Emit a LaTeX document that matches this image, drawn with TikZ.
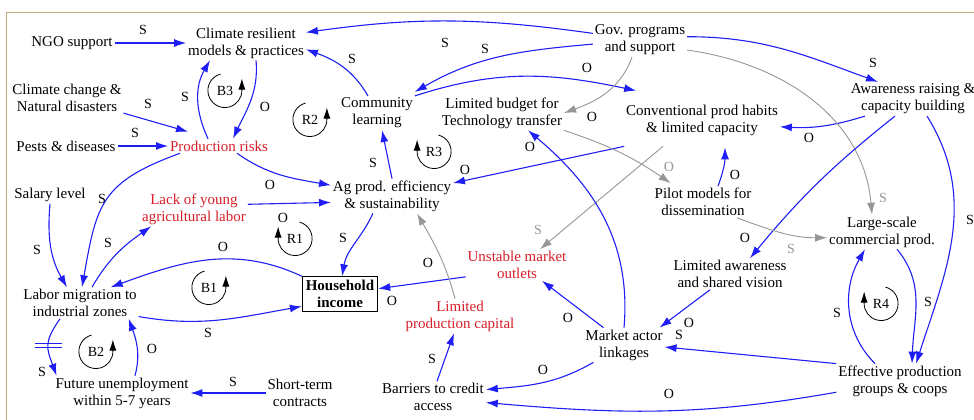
\documentclass[tikz,border=0pt]{standalone}
\usepackage{fontspec}
\setmainfont{Liberation Serif}
\usepackage{tikz}
\usetikzlibrary{arrows.meta,positioning}
\definecolor{linkblue}{RGB}{30,30,245}
\definecolor{linkgray}{RGB}{150,150,150}
\definecolor{riskred}{RGB}{215,30,40}
\definecolor{framecol}{RGB}{190,172,125}
\tikzset{
every picture/.style={
line width=1pt
}}
\tikzset{
    var/.style={align=center, inner sep=1.5pt, text=black,
      font=\fontsize{15}{17}\selectfont},
    hot/.style={var, text=riskred},
    box/.style={var, draw, inner sep=3.5pt, line width=0.9pt,
      font=\fontsize{15}{17}\selectfont\bfseries},
    link/.style={draw=linkblue, line width=1.1pt, -{Latex[length=12pt,width=8pt]}},
    glink/.style={draw=linkgray, line width=0.9pt, -{Latex[length=12pt,width=8pt]}},
    lbl/.style={inner sep=0pt, text=black, font=\fontsize{14}{16}\selectfont},
    glbl/.style={lbl, text=linkgray},
    loopmark/.style={circle, minimum size=34pt, inner sep=0pt,
      font=\fontsize{14}{16}\selectfont},
    looparrow/.style={line width=0.8pt, -{Latex[length=11pt,width=7pt]}}
}
\begin{document}
\begin{tikzpicture}[x=1pt, y=1pt]% [line width=0.25mm]
\useasboundingbox (0,0) rectangle (974,-420);
\draw [framecol, line width=0.8pt] (6,-420) |- (974,-12);

\node [var] at (72,-43) (ngo) {NGO support};
\node [var] at (246,-43) (climres) {Climate resilient\\models \& practices};
\node [var] at (67,-98) (cchange) {Climate change \&\\Natural disasters};
\node [var] at (66,-146) (pests) {Pests \& diseases};
\node [hot] at (219,-146) (prisk) {Production risks};
\node [var] at (50,-195) (salary) {Salary level};
\node [hot] at (194,-209) (lackyoung) {Lack of young\\agricultural labor};
\node [var] at (392,-196) (agprod) {Ag prod. efficiency\\\& sustainability};
\node [var] at (377,-113) (commlearn) {Community\\learning};
\node [var] at (502,-113) (budget) {Limited budget for\\Technology transfer};
\node [var] at (640,-40) (gov) {Gov. programs\\and support};
\node [var] at (702,-120) (convhab) {Conventional prod habits\\\& limited capacity};
\node [var] at (913,-99) (aware) {Awareness raising \&\\capacity building};
\node [var] at (703,-202) (pilot) {Pilot models for\\dissemination};
\node [var] at (882,-232) (largesc) {Large-scale\\commercial prod.};
\node [var] at (730,-274) (limaware) {Limited awareness\\and shared vision};
\node [hot] at (517,-265) (unstable) {Unstable market\\outlets};
\node [box] at (340,-294) (income) {Household\\income};
\node [hot] at (460,-316) (lpcap) {Limited\\production capital};
\node [var] at (624,-345) (market) {Market actor\\linkages};
\node [var] at (80,-303) (labmig) {Labor migration to\\industrial zones};
\node [var] at (122,-393) (future) {Future unemployment\\within 5-7 years};
\node [var] at (300,-393) (shortterm) {Short-term\\contracts};
\node [var] at (433,-397) (barriers) {Barriers to credit\\access};
\node [var] at (900,-381) (effprod) {Effective production\\groups \& coops};

\foreach \n/\x/\y in {B3/225/91, R2/310/120, B1/209/288, B2/96/352} {
  \node [loopmark] at (\x,-\y) (\n) {\n};
  \draw [looparrow] (\n.105) arc [start angle=105, end angle=360, radius=17] -- ++(0,12);
}
\foreach \n/\x/\y in {R3/434/152, R1/295/239, R4/881/304} {
  \node [loopmark] at (\x,-\y) (\n) {\n};
  \draw [looparrow] (\n.75) arc [start angle=75, end angle=-180, radius=17] -- ++(0,12);
}

\draw [link] (ngo) -- (climres) node [lbl] at (143,-30) {S};
\draw [link] (gov.172) to [out=172, in=8] (climres.10) node [lbl] at (445,-43) {S};
\draw [link] ([xshift=-9pt]commlearn.north) to [out=120, in=-20] (climres.-6) node [lbl] at (352,-59) {S};
\draw [link] (cchange.-15) -- ([xshift=20pt, yshift=7pt]prisk.north west) node [lbl] at (148,-104) {S};
\draw [link] (pests) -- (prisk) node [lbl] at (135,-133) {S};
\draw [link] ([xshift=-11pt]prisk.north) to [out=115, in=-120] ([xshift=-36pt]climres.south) node [lbl] at (185,-97) {S};
\draw [link] ([xshift=10pt]climres.south) to [out=-85, in=65] ([xshift=14pt]prisk.north) node [lbl] at (265,-107) {O};
\draw [link] ([xshift=18pt]prisk.south) to [out=-35, in=170] (agprod.170) node [lbl] at (270,-185) {O};
\draw [link] (lackyoung.5) -- (agprod.186) node [lbl] at (283,-218) {O};
\draw [link] (agprod.north) -- ([xshift=5pt]commlearn.south) node [lbl] at (373,-163) {S};
\draw [link] ([xshift=-19pt]agprod.south) to [out=-115, in=80] ([xshift=2pt]income.north) node [lbl] at (343,-238) {S};

\draw [link] (gov.185) to [out=185, in=30] ([yshift=4pt]commlearn.north east) node [lbl] at (485,-49) {S};
\draw [link] (commlearn.north east) to [out=18, in=168] ([xshift=12pt, yshift=12pt]convhab.north west) node [lbl] at (587,-68) {O};
\draw [glink] ([xshift=-8pt]gov.south) to [out=-110, in=20] (budget.east) node [lbl] at (592,-117) {O};
\draw [link] ([yshift=-9pt]convhab.south west) -- (agprod.12) node [lbl] at (465,-170) {O};
\draw [glink] (budget.south east) to [bend left=8] ([xshift=18pt, yshift=3pt]pilot.north west) node [glbl] at (669,-167) {O};
\draw [glink] ([xshift=-39pt, yshift=-9pt]convhab.south) -- ([xshift=23pt]unstable.north) node [glbl] at (538,-230) {S};
\draw [link] ([xshift=15pt]pilot.north) to [out=70, in=-90] ([xshift=23pt, yshift=-10pt]convhab.south) node [lbl] at (735,-175) {O};
\draw [link] ([xshift=-48pt]aware.south) to [bend left=10] (convhab.-5) node [lbl] at (809,-138) {O};
\draw [link] (gov.4) to [out=0, in=160] ([xshift=-35pt]aware.north) node [lbl] at (873,-63) {S};
\draw [glink] (gov.-12) to [out=-8, in=95] ([xshift=-10pt]largesc.north) node [glbl] at (883,-198) {S};
\draw [link] ([xshift=-18pt]aware.south) to [bend right=6] ([xshift=20pt]limaware.north) node [lbl] at (745,-238) {O};
\draw [link] ([xshift=14pt]aware.south) to [out=-58, in=72] ([xshift=16pt]effprod.north) node [lbl] at (970,-220) {S};
\draw [glink] ([xshift=34pt]pilot.south) to [out=-20, in=180] (largesc.186) node [glbl] at (791,-249) {S};
\draw [link] ([xshift=15pt]largesc.south) to [out=-50, in=88] ([xshift=12pt]effprod.north) node [lbl] at (928,-302) {S};
\draw [link] ([xshift=-25pt]effprod.north) to [out=135, in=-120] ([xshift=-17pt]largesc.south) node [lbl] at (837,-313) {S};

\draw [link] ([xshift=-20pt]limaware.south) -- ([xshift=-5pt]market.north east) node [lbl] at (689,-323) {O};
\draw [link] (effprod.north west) -- ([yshift=-2pt]market.east) node [lbl] at (679,-335) {S};
\draw [link] (effprod.190) to [out=190, in=-5] (barriers.-6) node [lbl] at (669,-394) {O};
\draw [link] ([xshift=10pt]market.south west) to [out=-150, in=5] (barriers.8) node [lbl] at (543,-370) {O};
\draw [link] ([xshift=20pt]market.north west) -- ([xshift=25pt]unstable.south) node [lbl] at (568,-318) {O};
\draw [link] (market.north) to [out=85, in=-40] ([xshift=26pt]budget.south) node [lbl] at (530,-147) {O};
\draw [link] (unstable.193) -- (income.8) node [lbl] at (392,-301) {O};
\draw [glink] ([xshift=-5pt]lpcap.north) to [out=105, in=-60] ([xshift=25pt]agprod.south) node [lbl] at (428,-263) {O};
\draw [link] ([xshift=4pt]barriers.north) -- ([xshift=-6pt]lpcap.south) node [lbl] at (432,-359) {S};

\draw [link] (income.north west) to [out=155, in=20] ([xshift=-28pt]labmig.north east) node [lbl] at (223,-247) {O};
\draw [link] (labmig.-13) to [out=-10, in=190] (income.198) node [lbl] at (208,-333) {S};
\draw [link] (salary.south) to [out=-95, in=120] ([xshift=-13pt]labmig.north) node [lbl] at (37,-250) {S};
\draw [link] ([xshift=12pt]prisk.south west) to [out=200, in=80, looseness=1.3] ([xshift=2pt]labmig.north) node [lbl] at (102,-199) {S};
\draw [link] ([xshift=12pt]labmig.north) to [out=60, in=215] ([xshift=11pt]lackyoung.south west) node [lbl] at (108,-243) {S};
\draw [link] ([xshift=-20pt]labmig.south) to [out=-125, in=110, looseness=1.3] coordinate [pos=0.5] (dly) ([xshift=3pt]future.north west) node [lbl] at (42,-372) {S};
\draw [link, -] ([xshift=-13pt, yshift=2pt]dly) -- ++(27,0) ([xshift=-13pt, yshift=-2pt]dly) -- ++(27,0);
\draw [link] ([xshift=13pt]future.north) to [out=75, in=-70] ([xshift=-10pt]labmig.south east) node [lbl] at (152,-349) {O};
\draw [link] (shortterm) -- (future) node [lbl] at (233,-382) {S};

\end{tikzpicture}
\end{document}
